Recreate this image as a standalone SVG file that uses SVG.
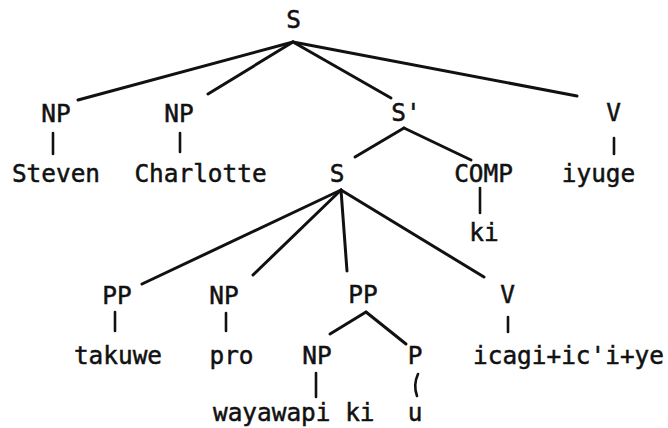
<svg xmlns="http://www.w3.org/2000/svg" width="668" height="428" viewBox="0 0 668 428">
  <style>
    text { font-family: "DejaVu Sans Mono", "Liberation Mono", monospace; font-size: 24.4px; fill: #111; stroke: #111; stroke-width: 0.5; text-anchor: middle; }
    .edge { stroke: #111; stroke-width: 3; stroke-linecap: round; fill: none; }
    .tick { stroke: #111; stroke-width: 2.6; stroke-linecap: round; fill: none; }
  </style>
  <rect width="668" height="428" fill="#fff"/>

  <!-- branches of the tree -->
  <g id="connectors">
    <line class="edge" x1="293" y1="42" x2="78" y2="100"/>
    <line class="edge" x1="293" y1="42" x2="208" y2="94"/>
    <line class="edge" x1="293" y1="42" x2="391" y2="98"/>
    <line class="edge" x1="293" y1="42" x2="577" y2="96"/>
    <line class="edge" x1="404" y1="128" x2="355" y2="157"/>
    <line class="edge" x1="404" y1="128" x2="471" y2="160"/>
    <line class="edge" x1="341" y1="190" x2="142" y2="284"/>
    <line class="edge" x1="341" y1="190" x2="253" y2="275"/>
    <line class="edge" x1="341" y1="190" x2="347" y2="271"/>
    <line class="edge" x1="341" y1="190" x2="484" y2="277"/>
    <line class="edge" x1="366" y1="312" x2="330" y2="334"/>
    <line class="edge" x1="366" y1="312" x2="406" y2="344"/>
    <!-- short lexical strokes -->
    <line class="tick" x1="53" y1="133" x2="53" y2="154"/>
    <line class="tick" x1="180" y1="133" x2="180" y2="152"/>
    <line class="tick" x1="614" y1="138" x2="614" y2="154"/>
    <line class="tick" x1="480" y1="188" x2="480" y2="213"/>
    <line class="tick" x1="115" y1="312" x2="115" y2="331"/>
    <line class="tick" x1="226" y1="313" x2="226" y2="331"/>
    <line class="tick" x1="508" y1="317" x2="508" y2="332"/>
    <line class="tick" x1="316" y1="373" x2="316" y2="397"/>
    <path class="tick" d="M418,374 Q413,385 417,396"/>
  </g>

  <g id="s-root"><text x="293.5" y="28">S</text></g>
  <g id="np-steven"><text x="56" y="122">NP</text></g>
  <g id="np-charlotte"><text x="179" y="122">NP</text></g>
  <g id="s-bar"><text x="406" y="121">S'</text></g>
  <g id="v-iyuge"><text x="613.5" y="121">V</text></g>
  <g id="w-steven"><text x="56" y="182">Steven</text></g>
  <g id="w-charlotte"><text x="200.5" y="182">Charlotte</text></g>
  <g id="s-embedded"><text x="337" y="182">S</text></g>
  <g id="comp"><text x="483.5" y="182">COMP</text></g>
  <g id="w-iyuge"><text x="598.5" y="182">iyuge</text></g>
  <g id="w-ki-comp"><text x="484" y="241">ki</text></g>
  <g id="pp-takuwe"><text x="117" y="304">PP</text></g>
  <g id="np-pro"><text x="224" y="304">NP</text></g>
  <g id="pp-inner"><text x="363" y="303">PP</text></g>
  <g id="v-icagi"><text x="507.5" y="303">V</text></g>
  <g id="w-takuwe"><text x="118" y="364">takuwe</text></g>
  <g id="w-pro"><text x="231.5" y="364">pro</text></g>
  <g id="np-wayawapi"><text x="317" y="364">NP</text></g>
  <g id="p-u"><text x="415" y="364">P</text></g>
  <g id="w-icagi"><text x="568.5" y="364">icagi+ic'i+ye</text></g>
  <g id="w-wayawapi"><text x="213" y="421" style="text-anchor:start">wayawapi ki</text></g>
  <g id="w-u"><text x="415" y="421">u</text></g>
</svg>
